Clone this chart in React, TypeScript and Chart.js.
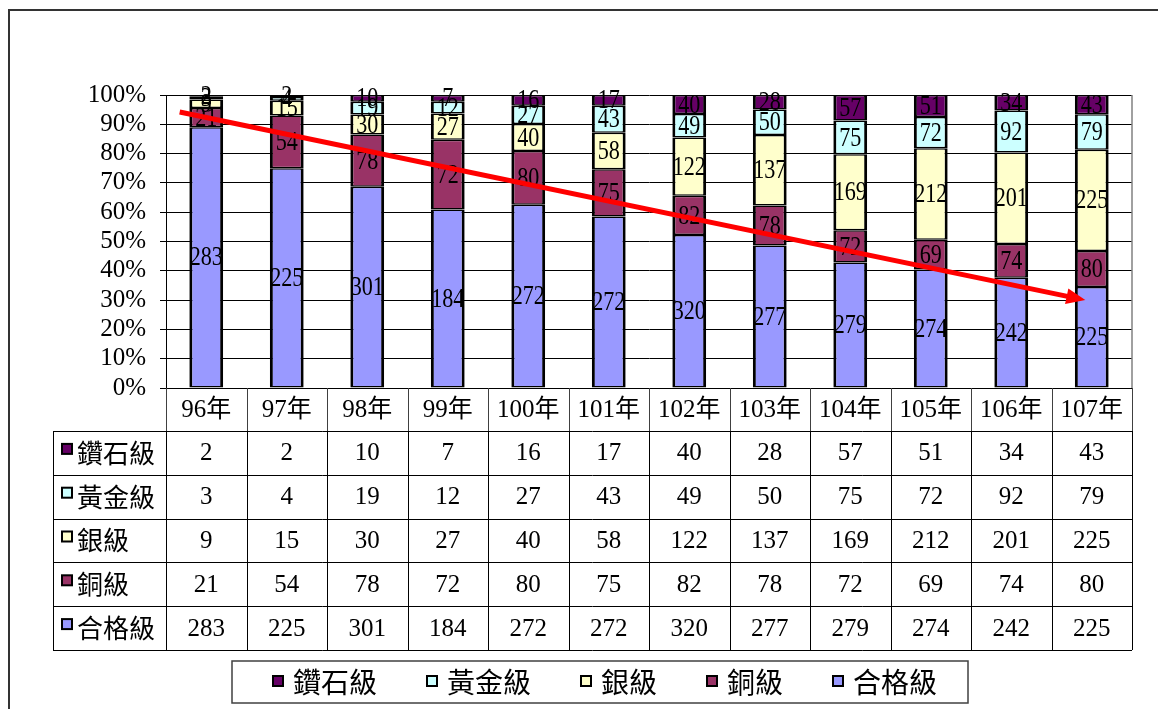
import React, { useEffect, useRef } from "react";
import { Chart, registerables } from "chart.js";

Chart.register(...registerables);

// ---------------- data ----------------
const categories = ["96年", "97年", "98年", "99年", "100年", "101年", "102年", "103年", "104年", "105年", "106年", "107年"];
const diamond = [2, 2, 10, 7, 16, 17, 40, 28, 57, 51, 34, 43];
const gold = [3, 4, 19, 12, 27, 43, 49, 50, 75, 72, 92, 79];
const silver = [9, 15, 30, 27, 40, 58, 122, 137, 169, 212, 201, 225];
const bronze = [21, 54, 78, 72, 80, 75, 82, 78, 72, 69, 74, 80];
const qualified = [283, 225, 301, 184, 272, 272, 320, 277, 279, 274, 242, 225];

const seriesNames = ["鑽石級", "黃金級", "銀級", "銅級", "合格級"];
const seriesColors = ["#660066", "#CCFFFF", "#FFFFCC", "#993366", "#9999FF"];
const seriesValues = [diamond, gold, silver, bronze, qualified];

// trend arrow, expressed in data units (category index, percent)
const trendFrom = { index: -0.33, percent: 94.2 };
const trendTo = { index: 10.92, percent: 30.0 };

// ---------------- layout / style ----------------
const W = 1158;
const H = 709;
const SERIF = "'Liberation Serif', 'Noto Sans CJK TC', serif";
const CJK = "'Noto Sans CJK TC', 'Liberation Serif', sans-serif";
const TABLE_LEFT = 53;
const HEADER_H = 43;
const ROW_H = 43.8;
const LEGEND_BOX = { left: 232, top: 661, right: 968, bottom: 703 };

const totals = categories.map((_, i) => seriesValues.reduce((s, arr) => s + arr[i], 0));

function drawSquare(ctx: CanvasRenderingContext2D, x: number, y: number, size: number, color: string) {
  ctx.fillStyle = color;
  ctx.fillRect(x, y, size, size);
  ctx.strokeStyle = "#000";
  ctx.lineWidth = 2;
  ctx.strokeRect(x, y, size, size);
}

const extras = {
  id: "excelExtras",
  beforeDraw(chart: any) {
    const ctx = chart.ctx;
    ctx.save();
    ctx.fillStyle = "#fff";
    ctx.fillRect(0, 0, W, H);
    ctx.strokeStyle = "#333";
    ctx.lineWidth = 2;
    ctx.beginPath();
    ctx.moveTo(9, H + 5);
    ctx.lineTo(9, 10);
    ctx.lineTo(W + 5, 10);
    ctx.stroke();
    ctx.restore();
  },
  afterDatasetsDraw(chart: any) {
    const ctx = chart.ctx;
    const area = chart.chartArea;
    ctx.save();
    // plot area right border
    ctx.strokeStyle = "#808080";
    ctx.lineWidth = 1.5;
    ctx.beginPath();
    ctx.moveTo(area.right, area.top);
    ctx.lineTo(area.right, area.bottom);
    ctx.stroke();

    // data labels
    ctx.fillStyle = "#000";
    ctx.textAlign = "center";
    ctx.textBaseline = "middle";
    ctx.font = `27px ${SERIF}`;
    chart.data.datasets.forEach((ds: any, di: number) => {
      const meta = chart.getDatasetMeta(di);
      meta.data.forEach((el: any, i: number) => {
        const cy = (el.y + el.base) / 2;
        ctx.save();
        ctx.translate(el.x, cy + 1);
        ctx.scale(0.82, 1);
        ctx.fillText(String(ds.counts[i]), 0, 0);
        ctx.restore();
      });
    });

    // trend arrow
    const xs = chart.scales.x;
    const ys = chart.scales.y;
    const x1 = xs.getPixelForValue(trendFrom.index);
    const y1 = ys.getPixelForValue(trendFrom.percent);
    const x2 = xs.getPixelForValue(trendTo.index);
    const y2 = ys.getPixelForValue(trendTo.percent);
    const ang = Math.atan2(y2 - y1, x2 - x1);
    const headLen = 19;
    const headHalf = 8;
    const bx = x2 - headLen * Math.cos(ang);
    const by = y2 - headLen * Math.sin(ang);
    ctx.strokeStyle = "#FF0000";
    ctx.fillStyle = "#FF0000";
    ctx.lineWidth = 5;
    ctx.lineCap = "butt";
    ctx.beginPath();
    ctx.moveTo(x1, y1);
    ctx.lineTo(bx + 2 * Math.cos(ang), by + 2 * Math.sin(ang));
    ctx.stroke();
    ctx.beginPath();
    ctx.moveTo(x2, y2);
    ctx.lineTo(bx - headHalf * Math.sin(ang), by + headHalf * Math.cos(ang));
    ctx.lineTo(bx + headHalf * Math.sin(ang), by - headHalf * Math.cos(ang));
    ctx.closePath();
    ctx.fill();
    ctx.restore();
  },
  afterDraw(chart: any) {
    const ctx = chart.ctx;
    const area = chart.chartArea;
    const xs = chart.scales.x;
    const colW = xs.getPixelForValue(1) - xs.getPixelForValue(0);
    const top = area.bottom;
    const headBottom = top + HEADER_H;
    const tableBottom = headBottom + ROW_H * seriesNames.length;
    ctx.save();

    // header row separators
    ctx.strokeStyle = "#404040";
    ctx.lineWidth = 1;
    for (let i = 0; i <= categories.length; i++) {
      const x = Math.round(area.left + i * colW) + 0.5;
      ctx.beginPath();
      ctx.moveTo(x, top);
      ctx.lineTo(x, headBottom);
      ctx.stroke();
    }
    // body grid
    ctx.strokeStyle = "#000";
    for (let r = 0; r <= seriesNames.length; r++) {
      const y = Math.round(headBottom + r * ROW_H) + 0.5;
      ctx.beginPath();
      ctx.moveTo(TABLE_LEFT, y);
      ctx.lineTo(area.right, y);
      ctx.stroke();
    }
    const vx = [TABLE_LEFT];
    for (let i = 0; i <= categories.length; i++) vx.push(area.left + i * colW);
    vx.forEach((xv) => {
      const x = Math.round(xv) + 0.5;
      ctx.beginPath();
      ctx.moveTo(x, headBottom);
      ctx.lineTo(x, tableBottom);
      ctx.stroke();
    });

    // header labels
    ctx.fillStyle = "#000";
    ctx.textAlign = "center";
    ctx.textBaseline = "middle";
    ctx.font = `25px ${SERIF}`;
    categories.forEach((c, i) => {
      ctx.fillText(c, xs.getPixelForValue(i), top + HEADER_H / 2 + 1);
    });

    // rows
    seriesNames.forEach((name, r) => {
      const cy = headBottom + r * ROW_H + ROW_H / 2;
      drawSquare(ctx, 62, cy - 9, 10, seriesColors[r]);
      ctx.textAlign = "left";
      ctx.font = `26px ${CJK}`;
      ctx.fillStyle = "#000";
      ctx.fillText(name, 77, cy);
      ctx.textAlign = "center";
      ctx.font = `25px ${SERIF}`;
      seriesValues[r].forEach((v, i) => {
        ctx.fillText(String(v), xs.getPixelForValue(i), cy + 1);
      });
    });

    // legend box
    ctx.strokeStyle = "#404040";
    ctx.lineWidth = 1.5;
    ctx.strokeRect(LEGEND_BOX.left, LEGEND_BOX.top, LEGEND_BOX.right - LEGEND_BOX.left, LEGEND_BOX.bottom - LEGEND_BOX.top);
    ctx.font = `28px ${CJK}`;
    const sq = 10;
    const gapIn = 10;
    const gapOut = 50;
    const widths = seriesNames.map((n) => ctx.measureText(n).width);
    const total = widths.reduce((s, w) => s + sq + gapIn + w, 0) + gapOut * (seriesNames.length - 1);
    let x = (LEGEND_BOX.left + LEGEND_BOX.right) / 2 - total / 2 + 5;
    const ly = (LEGEND_BOX.top + LEGEND_BOX.bottom) / 2;
    ctx.textAlign = "left";
    ctx.textBaseline = "middle";
    seriesNames.forEach((n, i) => {
      drawSquare(ctx, x, ly - 6, sq, seriesColors[i]);
      x += sq + gapIn;
      ctx.fillStyle = "#000";
      ctx.fillText(n, x, ly);
      x += widths[i] + gapOut;
    });
    ctx.restore();
  },
};

export default function App() {
  const ref = useRef<HTMLCanvasElement | null>(null);
  useEffect(() => {
    document.body.style.margin = "0";
    const canvas = ref.current;
    if (!canvas) return;
    // bottom-to-top stacking order
    const order = [4, 3, 2, 1, 0];
    const datasets = order.map((si) => ({
      label: seriesNames[si],
      data: seriesValues[si].map((v, i) => (v / totals[i]) * 100),
      counts: seriesValues[si],
      backgroundColor: seriesColors[si],
      borderColor: "#000",
      borderWidth: { left: 3, right: 3, top: 1.5, bottom: 1.5 },
      borderSkipped: false,
      inflateAmount: 0,
      barPercentage: 0.42,
      categoryPercentage: 1,
    }));
    const chart = new Chart(canvas, {
      type: "bar",
      data: { labels: categories, datasets: datasets as any },
      options: {
        animation: false,
        responsive: false,
        devicePixelRatio: 1,
        layout: { padding: { left: 0, top: 95, right: 26, bottom: 321 } },
        plugins: { legend: { display: false }, tooltip: { enabled: false } },
        scales: {
          x: { stacked: true, display: false },
          y: {
            stacked: true,
            min: 0,
            max: 100,
            afterFit: (s: any) => {
              s.width = 166;
            },
            ticks: {
              stepSize: 10,
              autoSkip: false,
              callback: (v: any) => `${v}%`,
              color: "#000",
              padding: 14,
              font: { family: SERIF, size: 25 },
            },
            grid: { color: "#000", lineWidth: 1, drawTicks: true, tickLength: 6, tickColor: "#000" },
            border: { display: true, color: "#000", width: 1 },
          },
        },
      },
      plugins: [extras],
    });
    return () => chart.destroy();
  }, []);
  return (
    <div style={{ width: W, height: H, position: "relative" }}>
      <canvas ref={ref} width={W} height={H} style={{ display: "block", width: W, height: H }} />
    </div>
  );
}
